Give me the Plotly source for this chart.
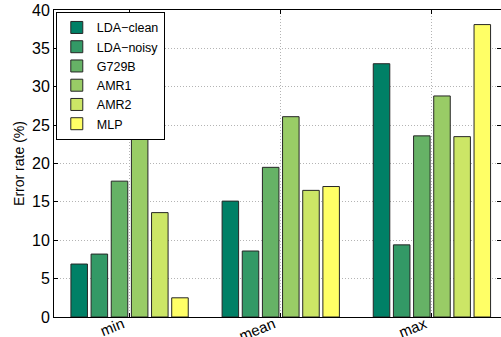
import plotly.graph_objects as go

categories = ["min", "mean", "max"]
series_names = ["LDA\u2212clean", "LDA\u2212noisy", "G729B", "AMR1", "AMR2", "MLP"]
lda_clean = [6.9, 15.1, 33.0]
lda_noisy = [8.2, 8.6, 9.4]
g729b = [17.7, 19.5, 23.6]
amr1 = [23.9, 26.1, 28.8]
amr2 = [13.6, 16.5, 23.5]
mlp = [2.5, 17.0, 38.1]
y_ticks = [0, 5, 10, 15, 20, 25, 30, 35, 40]

colors = ["#008066", "#339966", "#66B266", "#99CC66", "#CCE666", "#FFFF66"]
all_series = [lda_clean, lda_noisy, g729b, amr1, amr2, mlp]

fig = go.Figure()
for name, vals, col in zip(series_names, all_series, colors):
    fig.add_trace(go.Bar(
        x=[1, 2, 3], y=vals, name=name,
        marker=dict(color=col, line=dict(color="#262626", width=1)),
    ))

font_family = "Liberation Sans, Arial, sans-serif"
fig.update_layout(
    width=501, height=337,
    margin=dict(l=54, r=0, t=10, b=20),
    paper_bgcolor="white", plot_bgcolor="white",
    barmode="group", bargap=0.2, bargroupgap=0.18,
    font=dict(family=font_family, size=14, color="black"),
    showlegend=True,
    legend=dict(
        x=0.004, y=0.994, xanchor="left", yanchor="top",
        bgcolor="white", bordercolor="black", borderwidth=1,
        font=dict(size=12.5), itemwidth=30, tracegroupgap=0,
    ),
    xaxis=dict(
        range=[0.5, 3.457], tickmode="array", tickvals=[1, 2, 3], ticktext=categories,
        tickangle=-22, showline=True, linecolor="black", linewidth=1, mirror="ticks",
        ticks="inside", ticklen=4, tickcolor="black",
        showgrid=True, gridcolor="#b4b4b4", griddash="1px,2px", gridwidth=1,
        zeroline=False, tickfont=dict(size=15), automargin=False,
        ticklabelstandoff=-8, ticklabelshift=-7,
    ),
    yaxis=dict(
        range=[0, 40], tickmode="array", tickvals=y_ticks,
        showline=True, linecolor="black", linewidth=1, mirror="ticks",
        ticks="inside", ticklen=4, tickcolor="black",
        showgrid=True, gridcolor="#b4b4b4", griddash="1px,2px", gridwidth=1,
        zeroline=False, tickfont=dict(size=16), automargin=False,
        title=dict(text="Error rate (%)", font=dict(size=14), standoff=4),
    ),
)

fig.write_html("out.html", post_script="document.body.style.margin='0';",
               config={"displayModeBar": False})
